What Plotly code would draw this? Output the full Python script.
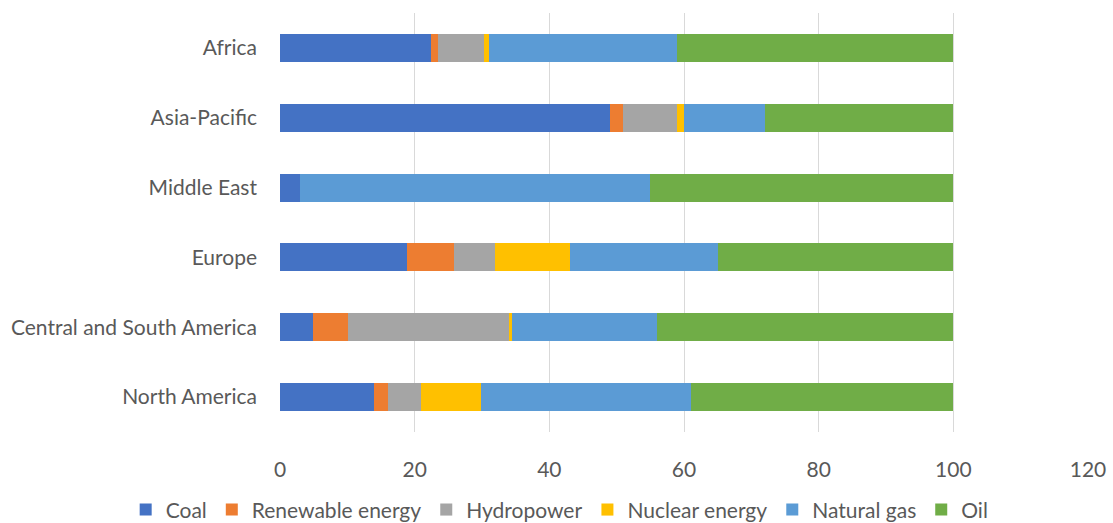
import plotly.graph_objects as go

# Regions, listed top to bottom
regions = ["Africa", "Asia-Pacific", "Middle East", "Europe",
           "Central and South America", "North America"]

# Share of primary energy consumption by fuel (%), per region
coal        = [22.4, 49.0, 3.0, 18.9, 4.9, 14.0]
renewable   = [1.1, 1.9, 0.0, 7.0, 5.2, 2.0]
hydropower  = [6.8, 8.1, 0.0, 6.1, 23.9, 4.9]
nuclear     = [0.7, 1.0, 0.0, 11.1, 0.5, 9.0]
natural_gas = [28.0, 12.1, 52.0, 21.9, 21.5, 31.2]
oil         = [41.0, 27.9, 45.0, 35.0, 44.0, 38.9]

series = [
    ("Coal", coal, "#4472C4"),
    ("Renewable energy", renewable, "#ED7D31"),
    ("Hydropower", hydropower, "#A5A5A5"),
    ("Nuclear energy", nuclear, "#FFC000"),
    ("Natural gas", natural_gas, "#5B9BD5"),
    ("Oil", oil, "#70AD47"),
]

x_ticks = [0, 20, 40, 60, 80, 100, 120]

FONT = "Lato, Calibri, Arial, sans-serif"
TEXT_COLOR = "#595959"
FONT_SIZE = 21

fig = go.Figure()
for name, values, color in series:
    fig.add_trace(go.Bar(
        name=name,
        y=regions,
        x=values,
        orientation="h",
        marker=dict(color=color, line=dict(width=0)),
    ))

fig.update_layout(
    barmode="stack",
    bargap=0.6,
    width=1113,
    height=523,
    margin=dict(l=280, r=25, t=13, b=91, autoexpand=False),
    paper_bgcolor="white",
    plot_bgcolor="white",
    font=dict(family=FONT, size=FONT_SIZE, color=TEXT_COLOR),
    showlegend=True,
    legend=dict(
        orientation="h",
        traceorder="normal",
        xref="paper", yref="paper",
        x=-0.191, xanchor="left",
        y=-0.186, yanchor="middle",
        font=dict(family=FONT, size=FONT_SIZE, color=TEXT_COLOR),
        itemwidth=30,
    ),
    xaxis=dict(
        range=[0, 120],
        tickvals=x_ticks,
        ticktext=[str(v) for v in x_ticks],
        showgrid=True,
        gridcolor="#D9D9D9",
        gridwidth=1,
        zeroline=False,
        showline=False,
        ticks="outside",
        ticklen=19,
        tickcolor="rgba(0,0,0,0)",
        tickfont=dict(family=FONT, size=FONT_SIZE, color=TEXT_COLOR),
    ),
    yaxis=dict(
        categoryorder="array",
        categoryarray=regions,
        autorange="reversed",
        showgrid=False,
        zeroline=False,
        showline=False,
        ticklabelstandoff=22,
        tickfont=dict(family=FONT, size=FONT_SIZE, color=TEXT_COLOR),
    ),
)

fig.write_html("out.html")
